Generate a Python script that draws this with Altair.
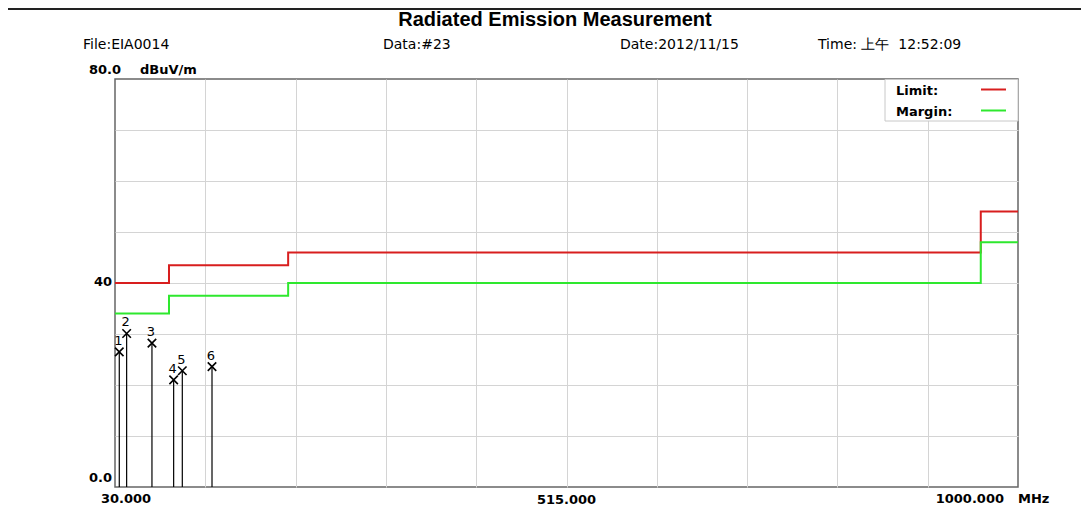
import altair as alt
import pandas as pd

# ---- data ----
limit_freq = [30, 88, 216, 960, 1000]
limit_vals = [40.0, 43.5, 46.0, 54.0, 54.0]
margin_vals = [34.0, 37.5, 40.0, 48.0, 48.0]

peak_ids = ["1", "2", "3", "4", "5", "6"]
peak_freq = [34.6, 42.5, 69.7, 93.0, 102.3, 134.2]
peak_level = [26.5, 30.1, 28.2, 21.0, 22.8, 23.6]

x_grid = [127, 224, 321, 418, 515, 612, 709, 806, 903]
y_grid = [10, 20, 30, 40, 50, 60, 70]

title_text = "Radiated Emission Measurement"
header_texts = ["File:EIA0014", "Data:#23", "Date:2012/11/15", "Time:\u00a0上午\u00a0\u00a012:52:09"]
header_x = [-32, 268, 505, 703]

W, H = 903, 408
FONT = "DejaVu Sans"

xs = alt.Scale(domain=[30, 1000], nice=False, zero=False)
ys = alt.Scale(domain=[0, 80], nice=False, zero=False)

lines_df = pd.DataFrame({
    "f": limit_freq + limit_freq,
    "v": limit_vals + margin_vals,
    "s": ["Limit"] * len(limit_freq) + ["Margin"] * len(limit_freq),
})
peaks_df = pd.DataFrame({"id": peak_ids, "f": peak_freq, "v": peak_level})

X = lambda: alt.X("f:Q", scale=xs, axis=alt.Axis(values=x_grid, grid=True, labels=False,
                                                 ticks=False, domain=False, title=None))
Y = lambda: alt.Y("v:Q", scale=ys, axis=alt.Axis(values=y_grid, grid=True, labels=False,
                                                 ticks=False, domain=False, title=None))

lines = alt.Chart(lines_df).mark_line(interpolate="step-after", strokeWidth=2).encode(
    x=X(), y=Y(),
    color=alt.Color("s:N", scale=alt.Scale(domain=["Limit", "Margin"], range=["#d81e1e", "#2ee82e"]),
                    legend=None),
)

stems = alt.Chart(peaks_df).mark_rule(color="black", strokeWidth=1.2).encode(
    x=X(), y=Y(), y2=alt.Y2(datum=0)
)
crosses = alt.Chart(peaks_df).mark_point(
    shape="M-1,-1L1,1M-1,1L1,-1", filled=False, stroke="black", strokeWidth=1.6, size=72, opacity=1
).encode(x=X(), y=Y())
nums = alt.Chart(peaks_df).mark_text(dy=-11, dx=-1, fontSize=13, font=FONT, color="black").encode(
    x=X(), y=Y(), text="id:N"
)

# legend box
leg_box = alt.Chart(pd.DataFrame({"a": [0]})).mark_rect(fill="white", stroke="#c8c8c8", strokeWidth=1).encode(
    x=alt.value(770), x2=alt.value(W), y=alt.value(0.5), y2=alt.value(42)
)
leg_lines = alt.Chart(pd.DataFrame({"a": [0]})).mark_rule(color="#d81e1e", strokeWidth=2).encode(
    x=alt.value(866), x2=alt.value(891), y=alt.value(10.5)
) + alt.Chart(pd.DataFrame({"a": [0]})).mark_rule(color="#2ee82e", strokeWidth=2).encode(
    x=alt.value(866), x2=alt.value(891), y=alt.value(31.5)
)
leg_text = alt.Chart(pd.DataFrame({"t": ["Limit:"]})).mark_text(
    align="left", baseline="middle", fontSize=13, fontWeight="bold", font=FONT, color="black"
).encode(x=alt.value(781), y=alt.value(12), text="t:N") + alt.Chart(pd.DataFrame({"t": ["Margin:"]})).mark_text(
    align="left", baseline="middle", fontSize=13, fontWeight="bold", font=FONT, color="black"
).encode(x=alt.value(781), y=alt.value(33), text="t:N")

# header texts
title = alt.Chart(pd.DataFrame({"t": [title_text]})).mark_text(
    align="center", baseline="middle", fontSize=20, fontWeight="bold", font="Liberation Sans", color="black"
).encode(x=alt.value(440), y=alt.value(-59), text="t:N")
header = alt.Chart(pd.DataFrame({"t": header_texts, "px": header_x})).mark_text(
    align="left", baseline="middle", fontSize=14, font=FONT, color="black"
).encode(x=alt.X("px:Q", scale=None), y=alt.value(-34), text="t:N")
top_rule = alt.Chart(pd.DataFrame({"a": [0]})).mark_rule(color="#222", strokeWidth=2).encode(
    x=alt.value(-107), x2=alt.value(W + 63), y=alt.value(-70)
)

# axis labels
lab_style = dict(fontSize=13, fontWeight="bold", font=FONT, color="black", baseline="middle")
y80 = alt.Chart(pd.DataFrame({"t": ["80.0"]})).mark_text(align="left", **lab_style).encode(
    x=alt.value(-26), y=alt.value(-9), text="t:N")
unit = alt.Chart(pd.DataFrame({"t": ["dBuV/m"]})).mark_text(align="left", **lab_style).encode(
    x=alt.value(25), y=alt.value(-9), text="t:N")
y40 = alt.Chart(pd.DataFrame({"v": [40], "t": ["40"]})).mark_text(align="right", dy=-1, **lab_style).encode(
    x=alt.value(-3), y=alt.Y("v:Q", scale=ys), text="t:N")
y0 = alt.Chart(pd.DataFrame({"v": [0], "t": ["0.0"]})).mark_text(align="right", dy=-9, **lab_style).encode(
    x=alt.value(-3), y=alt.Y("v:Q", scale=ys), text="t:N")
x30 = alt.Chart(pd.DataFrame({"f": [30], "t": ["30.000"]})).mark_text(align="center", dx=11, **lab_style).encode(
    x=alt.X("f:Q", scale=xs), y=alt.value(H + 12), text="t:N")
x515 = alt.Chart(pd.DataFrame({"f": [515], "t": ["515.000"]})).mark_text(align="center", dx=0, **lab_style).encode(
    x=alt.X("f:Q", scale=xs), y=alt.value(H + 13), text="t:N")
x1000 = alt.Chart(pd.DataFrame({"f": [1000], "t": ["1000.000"]})).mark_text(align="right", dx=-14, **lab_style).encode(
    x=alt.X("f:Q", scale=xs), y=alt.value(H + 12), text="t:N")
xunit = alt.Chart(pd.DataFrame({"f": [1000], "t": ["MHz"]})).mark_text(align="left", dx=0, **lab_style).encode(
    x=alt.X("f:Q", scale=xs), y=alt.value(H + 12), text="t:N")

chart = alt.layer(
    lines, stems, crosses, nums, leg_box, leg_lines, leg_text, title, header, top_rule,
    y80, unit, y40, y0, x30, x515, x1000, xunit
).properties(
    width=W, height=H,
    padding={"left": 107, "top": 71, "right": 63, "bottom": 21},
    autosize=alt.AutoSizeParams(type="none"),
).configure_view(
    stroke="#666", strokeWidth=1.5
).configure_axis(
    gridColor="#d4d4d4", gridWidth=1
)

chart.save("out.html", embed_options={"renderer": "svg", "actions": False})
